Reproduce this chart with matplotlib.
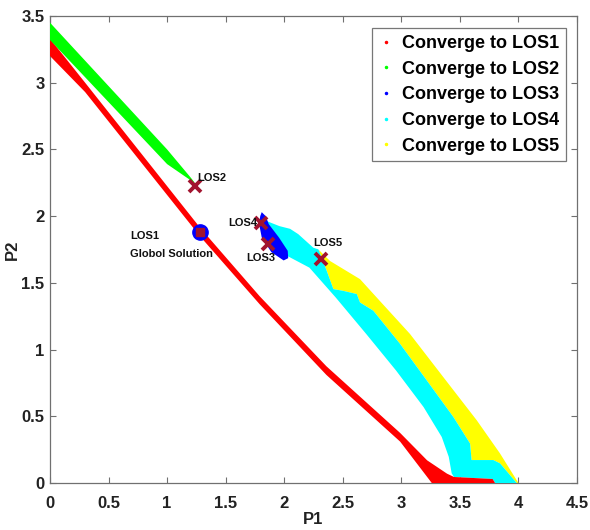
import matplotlib
matplotlib.use("Agg")
import matplotlib.pyplot as plt
from matplotlib.lines import Line2D

plt.rcParams['font.family'] = ['Liberation Sans', 'DejaVu Sans']
plt.rcParams['font.weight'] = 'bold'

# ---- region boundaries (P1, P2) ----
red_x = [0.00, 0.30, 1.28, 1.79, 2.36, 2.99, 3.22, 3.39, 3.45, 3.78, 3.80, 3.26, 2.99, 2.36, 1.79, 1.28, 0.30, 0.00]
red_y = [3.33, 3.00, 1.915, 1.40, 0.875, 0.375, 0.17, 0.07, 0.045, 0.03, 0.00, 0.00, 0.31, 0.81, 1.34, 1.85, 2.93, 3.20]

green_x = [0.00, 1.00, 1.21, 1.24, 1.00, 0.00]
green_y = [3.45, 2.50, 2.28, 2.245, 2.39, 3.32]

blue_x = [1.808, 1.842, 1.868, 1.955, 2.030, 2.034, 1.995, 1.890, 1.808, 1.786, 1.795]
blue_y = [2.030, 2.000, 1.940, 1.840, 1.740, 1.685, 1.668, 1.730, 1.840, 1.940, 2.000]

cyan_x = [1.83, 1.96, 2.05, 2.12, 2.249, 2.292, 2.363, 2.42, 2.505, 2.62, 2.647, 2.761, 2.989, 3.217,
          3.444, 3.587, 3.60, 3.786, 3.843, 3.985, 3.80, 3.78, 3.45, 3.43, 3.405, 3.345, 3.19, 2.955,
          2.70, 2.44, 2.215, 2.03, 2.02, 1.95, 1.86]
cyan_y = [1.97, 1.925, 1.905, 1.865, 1.763, 1.751, 1.59, 1.453, 1.44, 1.416, 1.353, 1.291, 1.043, 0.769,
          0.495, 0.296, 0.172, 0.172, 0.147, 0.00, 0.00, 0.03, 0.045, 0.072, 0.196, 0.345, 0.569, 0.843,
          1.117, 1.39, 1.614, 1.70, 1.74, 1.84, 1.94]

yellow_x = [2.277, 2.391, 2.647, 2.79, 3.074, 3.359, 3.644, 3.843, 4.00, 3.985, 3.843, 3.786, 3.60,
            3.587, 3.444, 3.217, 2.989, 2.761, 2.647, 2.62, 2.505, 2.42, 2.363, 2.292]
yellow_y = [1.763, 1.664, 1.528, 1.39, 1.117, 0.793, 0.47, 0.221, 0.00, 0.00, 0.147, 0.172, 0.172,
            0.296, 0.495, 0.769, 1.043, 1.291, 1.353, 1.416, 1.44, 1.453, 1.59, 1.751]

# ---- local optimal solutions ----
los_names = ['LOS1', 'LOS2', 'LOS3', 'LOS4', 'LOS5']
los_x = [1.28, 1.238, 1.862, 1.805, 2.317]
los_y = [1.88, 2.224, 1.79, 1.945, 1.677]

legend_labels = ['Converge to LOS1', 'Converge to LOS2', 'Converge to LOS3',
                 'Converge to LOS4', 'Converge to LOS5']
region_colors = ['#ff0000', '#00ff00', '#0000ff', '#00ffff', '#ffff00']

x_ticks = [0, 0.5, 1, 1.5, 2, 2.5, 3, 3.5, 4, 4.5]
x_ticklabels = ['0', '0.5', '1', '1.5', '2', '2.5', '3', '3.5', '4', '4.5']
y_ticks = [0, 0.5, 1, 1.5, 2, 2.5, 3, 3.5]
y_ticklabels = ['0', '0.5', '1', '1.5', '2', '2.5', '3', '3.5']

mark_color = '#A2142F'

fig = plt.figure(figsize=(5.9, 5.3), dpi=100)
ax = fig.add_axes([50/590, 1-483/530, 527/590, 467/530])

ax.fill(yellow_x, yellow_y, color=region_colors[4], lw=0, zorder=2)
ax.fill(cyan_x, cyan_y, color=region_colors[3], lw=0, zorder=3)
ax.fill(red_x, red_y, color=region_colors[0], lw=0, zorder=4)
ax.fill(green_x, green_y, color=region_colors[1], lw=0, zorder=4)
ax.fill(blue_x, blue_y, color=region_colors[2], lw=0, zorder=5)

# LOS1: blue circle with marker inside
ax.plot(los_x[0], los_y[0], 'o', ms=11, mfc='#0000ff', mec='#0000ff', zorder=6)
ax.plot(los_x[0], los_y[0], 's', ms=6, mfc=mark_color, mec=mark_color, zorder=7)
ax.plot(los_x[1:], los_y[1:], 'x', ms=8, mew=2.8, color=mark_color, ls='none', zorder=7)

tk = dict(fontsize=8, fontweight='bold', color='#111111', zorder=8)
ax.text(0.683, 1.85, 'LOS1', ha='left', va='center', **tk)
ax.text(0.683, 1.72, 'Globol Solution', ha='left', va='center', **tk)
ax.text(1.255, 2.286, 'LOS2', ha='left', va='center', **tk)
ax.text(1.68, 1.689, 'LOS3', ha='left', va='center', **tk)
ax.text(1.523, 1.95, 'LOS4', ha='left', va='center', **tk)
ax.text(2.249, 1.80, 'LOS5', ha='left', va='center', **tk)

ax.set_xlim(0, 4.5)
ax.set_ylim(0, 3.5)
ax.set_xticks(x_ticks)
ax.set_xticklabels(x_ticklabels)
ax.set_yticks(y_ticks)
ax.set_yticklabels(y_ticklabels)
ax.tick_params(direction='in', length=4, width=0.8, top=True, right=True,
               labelsize=12, color='#707070', labelcolor='#222222')
ax.tick_params(axis='x', pad=9)
ax.tick_params(axis='y', pad=4)
for lbl in ax.get_xticklabels() + ax.get_yticklabels():
    lbl.set_fontweight('bold')
for s in ax.spines.values():
    s.set_color('#707070')
    s.set_linewidth(0.9)

ax.set_xlabel('P1', fontsize=12, fontweight='bold', labelpad=1, color='#222222')
ax.set_ylabel('P2', fontsize=12, fontweight='bold', labelpad=1, color='#222222')

handles = [Line2D([], [], ls='none', marker='.', ms=3, color=c) for c in region_colors]
leg = ax.legend(handles, legend_labels, loc='upper right', bbox_to_anchor=(566/590, 1-28/530),
                bbox_transform=fig.transFigure, prop={'weight': 'bold', 'size': 13},
                frameon=True, fancybox=False, handlelength=0.8, handletextpad=0.5,
                labelspacing=0.48, borderpad=0.38, borderaxespad=0)
leg.get_frame().set_edgecolor('#555555')
leg.get_frame().set_linewidth(0.9)

fig.savefig('out.png', dpi=100)
